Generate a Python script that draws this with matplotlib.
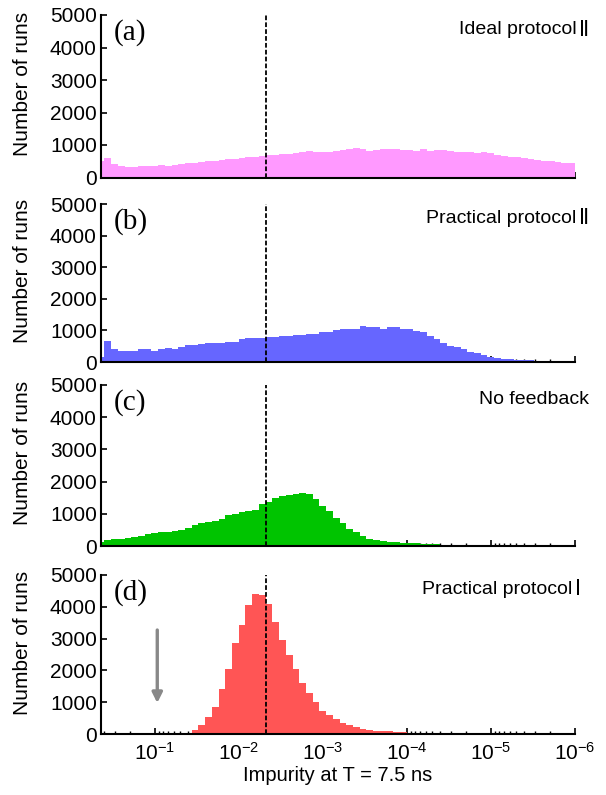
import numpy as np
import matplotlib.pyplot as plt

# counts per log bin (72 bins, left = large impurity)
ideal_two = [515, 608, 412, 350, 310, 330, 340, 340, 340, 370, 360, 400,
             412, 440, 453, 480, 494, 510, 536, 560, 577, 600, 618, 640,
             660, 690, 700, 720, 730, 742, 780, 814, 800, 793, 800, 824,
             855, 875, 917, 886, 824, 845, 886, 886, 886, 834, 855, 824,
             886, 814, 834, 855, 803, 783, 783, 783, 762, 783, 742, 690,
             660, 618, 618, 587, 567, 540, 520, 500, 480, 460, 433, 410]

practical_two = [150, 670, 400, 360, 357, 357, 400, 400, 360, 400, 430, 410,
                 480, 535, 535, 567, 590, 590, 610, 640, 640, 725, 745, 745,
                 760, 777, 777, 820, 820, 850, 850, 900, 900, 955, 955, 1000,
                 1030, 1030, 1030, 1150, 1120, 1100, 1030, 1110, 1110, 1030, 1040, 985,
                 935, 820, 715, 590, 505, 480, 400, 315, 275, 220, 170, 125,
                 105, 85, 65, 55, 50, 40, 40, 30, 0, 0, 0, 0]

no_feedback = [120, 190, 210, 230, 250, 270, 300, 380, 400, 420, 440, 470,
               510, 560, 640, 700, 740, 770, 850, 950, 1000, 1060, 1100, 1120,
               1300, 1380, 1500, 1560, 1580, 1610, 1640, 1600, 1460, 1250, 1080, 880,
               700, 540, 420, 300, 230, 180, 150, 130, 110, 100, 90, 80,
               70, 60, 50, 45, 40, 30, 20, 0, 0, 0, 0, 0,
               0, 0, 0, 0, 0, 0, 0, 0, 0, 0, 0, 0]

practical_one = [0, 0, 0, 0, 0, 0, 0, 0, 0, 0, 0, 0,
                 10, 40, 135, 290, 550, 860, 1400, 2050, 2860, 3420, 4060, 4400,
                 4360, 4080, 3530, 2950, 2480, 2030, 1600, 1300, 1000, 720, 600, 480,
                 350, 270, 220, 170, 140, 110, 90, 80, 60, 50, 40, 30,
                 20, 0, 0, 0, 0, 0, 0, 0, 0, 0, 0, 0,
                 0, 0, 0, 0, 0, 0, 0, 0, 0, 0, 0, 0]

series = [ideal_two, practical_two, no_feedback, practical_one]
tags = ["(a)", "(b)", "(c)", "(d)"]
names = ["Ideal protocol", "Practical protocol", "No feedback", "Practical protocol"]
numerals = ["\u2161", "\u2161", "", "\u2160"]
colors = ["#ff99ff", "#6666ff", "#00c400", "#ff5555"]

first_edge = -0.317   # log10 of the first bin edge
bin_step = 0.08       # decades per bin
x_left, x_right = 10 ** -0.357, 1e-6
threshold = 4.8e-3
yticks = [0, 1000, 2000, 3000, 4000, 5000]

plt.rcParams["font.family"] = ["Liberation Sans", "DejaVu Sans"]

W, H = 606, 795
fig = plt.figure(figsize=(W / 100, H / 100), dpi=100)
# (top, bottom) pixel rows of each panel
rows = [(15, 177.5), (204, 362), (385, 546), (575, 734)]
px_left, px_right = 101, 575

for i, counts in enumerate(series):
    top, bottom = rows[i]
    ax = fig.add_axes([px_left / W, 1 - bottom / H,
                       (px_right - px_left) / W, (bottom - top) / H])
    edges = 10 ** (first_edge - bin_step * np.arange(len(counts) + 1))
    ax.stairs(counts[::-1], edges[::-1], fill=True, color=colors[i], lw=0)
    ax.set_xscale("log")
    ax.set_xlim(x_left, x_right)
    ax.set_ylim(0, 5000)
    ax.set_yticks(yticks)
    ax.set_axisbelow(True)
    ax.axvline(threshold, color="black", lw=1.3, dashes=(2.6, 1.2), zorder=3)

    for s in ["top", "right"]:
        ax.spines[s].set_visible(False)
    for s in ["left", "bottom"]:
        ax.spines[s].set_linewidth(1.5)

    ax.tick_params(which="major", direction="in", length=4, width=1.2,
                   labelsize=15, pad=3)
    ax.tick_params(which="minor", direction="in", length=2.2, width=1.0)
    if i < 3:
        ax.tick_params(axis="x", which="both", labelbottom=False)
    else:
        ax.tick_params(axis="x", pad=6)
        ax.set_xlabel("Impurity at T = 7.5 ns", fontsize=14.5, labelpad=1)

    ax.set_ylabel("Number of runs", fontsize=15)
    ax.yaxis.set_label_coords(-0.145, 0.575)

    ax.text(0.027, 0.89, tags[i], transform=ax.transAxes, fontsize=21,
            family="Liberation Serif", va="center", ha="left")

    # the roman numeral sits at the right end, the words just before it
    right_x = 1.012 if i == 3 else 1.03
    if numerals[i]:
        num = ax.text(right_x, 0.91, numerals[i], transform=ax.transAxes,
                      fontsize=15, family="DejaVu Sans",
                      va="center", ha="right")
        ax.annotate(names[i], xy=(0, 0.5), xycoords=num, xytext=(-2, 0),
                    textcoords="offset points", fontsize=14,
                    va="center", ha="right")
    else:
        ax.text(right_x, 0.91, names[i], transform=ax.transAxes, fontsize=14,
                va="center", ha="right")

    if i == 3:
        ax.annotate("", xy=(0.094, 975), xytext=(0.094, 3270),
                    arrowprops=dict(arrowstyle="-|>", color="#888888",
                                    lw=2.4, mutation_scale=15,
                                    shrinkA=0, shrinkB=0))

fig.savefig("out.png", dpi=100)
